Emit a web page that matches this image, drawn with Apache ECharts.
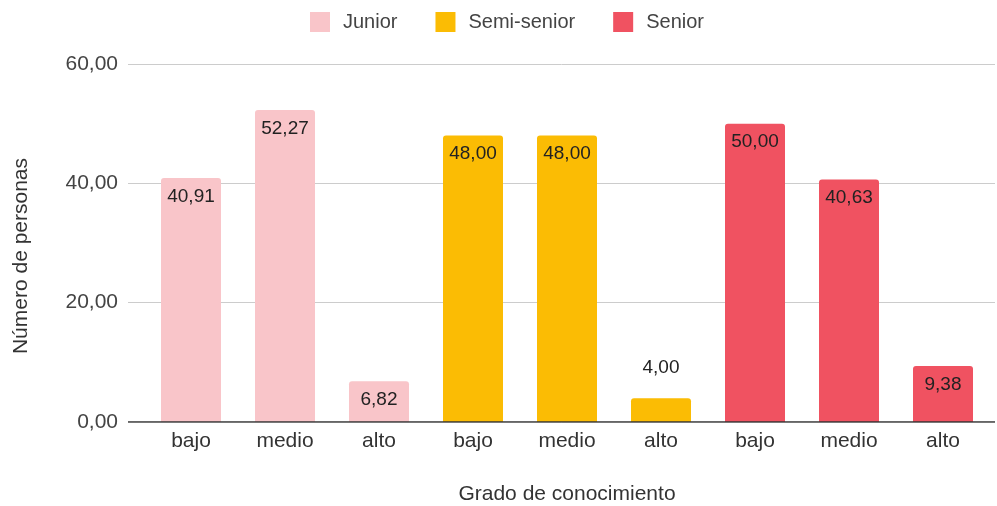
<!DOCTYPE html>
<html>
<head>
<meta charset="utf-8">
<script src="https://cdn.jsdelivr.net/npm/echarts@6/dist/echarts.min.js"></script>
<style>
  html, body { margin: 0; padding: 0; background: #fff; }
  #chart { width: 997px; height: 506px; }
</style>
</head>
<body>
<div id="chart"></div>
<script>
// Knowledge level per seniority group (percentages)
const categories = ['bajo', 'medio', 'alto', 'bajo', 'medio', 'alto', 'bajo', 'medio', 'alto'];
const junior     = [40.91, 52.27, 6.82, null, null, null, null, null, null];
const semiSenior = [null, null, null, 48.00, 48.00, 4.00, null, null, null];
const senior     = [null, null, null, null, null, null, 50.00, 40.63, 9.38];
const yTicks = [0, 20, 40, 60];

const FONT = 'Liberation Sans, Arial, sans-serif';
const fmt = v => v.toFixed(2).replace('.', ',');

function toData(arr) {
  return arr.map(v => {
    if (v == null) return '-';
    // short bars carry their value above the bar
    if (v < 5) return { value: v, label: { position: 'top', distance: 21 } };
    return v;
  });
}

function makeSeries(name, arr, color) {
  return {
    name: name,
    type: 'bar',
    xAxisIndex: 1,
    yAxisIndex: 1,
    stack: 'grupo',
    barWidth: 60,
    data: toData(arr),
    itemStyle: { color: color, borderRadius: [3, 3, 0, 0] },
    label: {
      show: true,
      position: 'insideTop',
      distance: 9,
      color: '#222',
      fontFamily: FONT,
      fontSize: 19,
      formatter: p => fmt(p.value)
    }
  };
}

const chart = echarts.init(document.getElementById('chart'), null, { renderer: 'canvas' });
chart.setOption({
  animation: false,
  backgroundColor: '#fff',
  legend: {
    top: 7,
    left: 305,
    itemWidth: 20,
    itemHeight: 20,
    itemGap: 38,
    icon: 'rect',
    textStyle: { fontFamily: FONT, fontSize: 20, color: '#444', padding: [0, 0, 0, 8] },
    data: ['Junior', 'Semi-senior', 'Senior']
  },
  grid: [
    // frame for value gridlines
    { left: 128, right: 2, top: 64, bottom: 84, containLabel: false, outerBoundsMode: 'none' },
    // bar area
    { left: 144, right: 7, top: 64, bottom: 84, containLabel: false, outerBoundsMode: 'none' }
  ],
  xAxis: [
    { type: 'value', gridIndex: 0, show: false, min: 0, max: 1 },
    {
      type: 'category',
      gridIndex: 1,
      data: categories,
      axisLine: { show: false },
      axisTick: { show: false },
      axisLabel: { fontFamily: FONT, fontSize: 21, color: '#333', margin: 9 },
      name: 'Grado de conocimiento',
      nameLocation: 'middle',
      nameGap: 62,
      nameTextStyle: { fontFamily: FONT, fontSize: 21, color: '#333' }
    }
  ],
  yAxis: [
    {
      type: 'value',
      gridIndex: 0,
      min: 0, max: 60, interval: 20,
      axisLine: { show: false },
      axisTick: { show: false },
      axisLabel: {
        fontFamily: FONT, fontSize: 21, color: '#444', margin: 10,
        formatter: v => yTicks.includes(v) ? fmt(v) : ''
      },
      splitLine: { lineStyle: { color: '#cccccc', width: 1 } },
      name: 'Número de personas',
      nameLocation: 'middle',
      nameGap: 96,
      nameRotate: 90,
      nameTextStyle: { fontFamily: FONT, fontSize: 21, color: '#333', padding: [0, 26, 0, 0] }
    },
    {
      type: 'value',
      gridIndex: 1,
      min: 0, max: 60, interval: 20,
      show: false,
      splitLine: { show: false }
    }
  ],
  series: [
    // baseline at zero across the full frame
    {
      type: 'line',
      xAxisIndex: 0,
      yAxisIndex: 0,
      data: [[0, 0], [1, 0]],
      symbol: 'none',
      silent: true,
      lineStyle: { color: '#333', width: 1.5 },
      z: 5
    },
    makeSeries('Junior', junior, '#f9c5c9'),
    makeSeries('Semi-senior', semiSenior, '#fbbc04'),
    makeSeries('Senior', senior, '#f05261')
  ]
});
</script>
</body>
</html>
